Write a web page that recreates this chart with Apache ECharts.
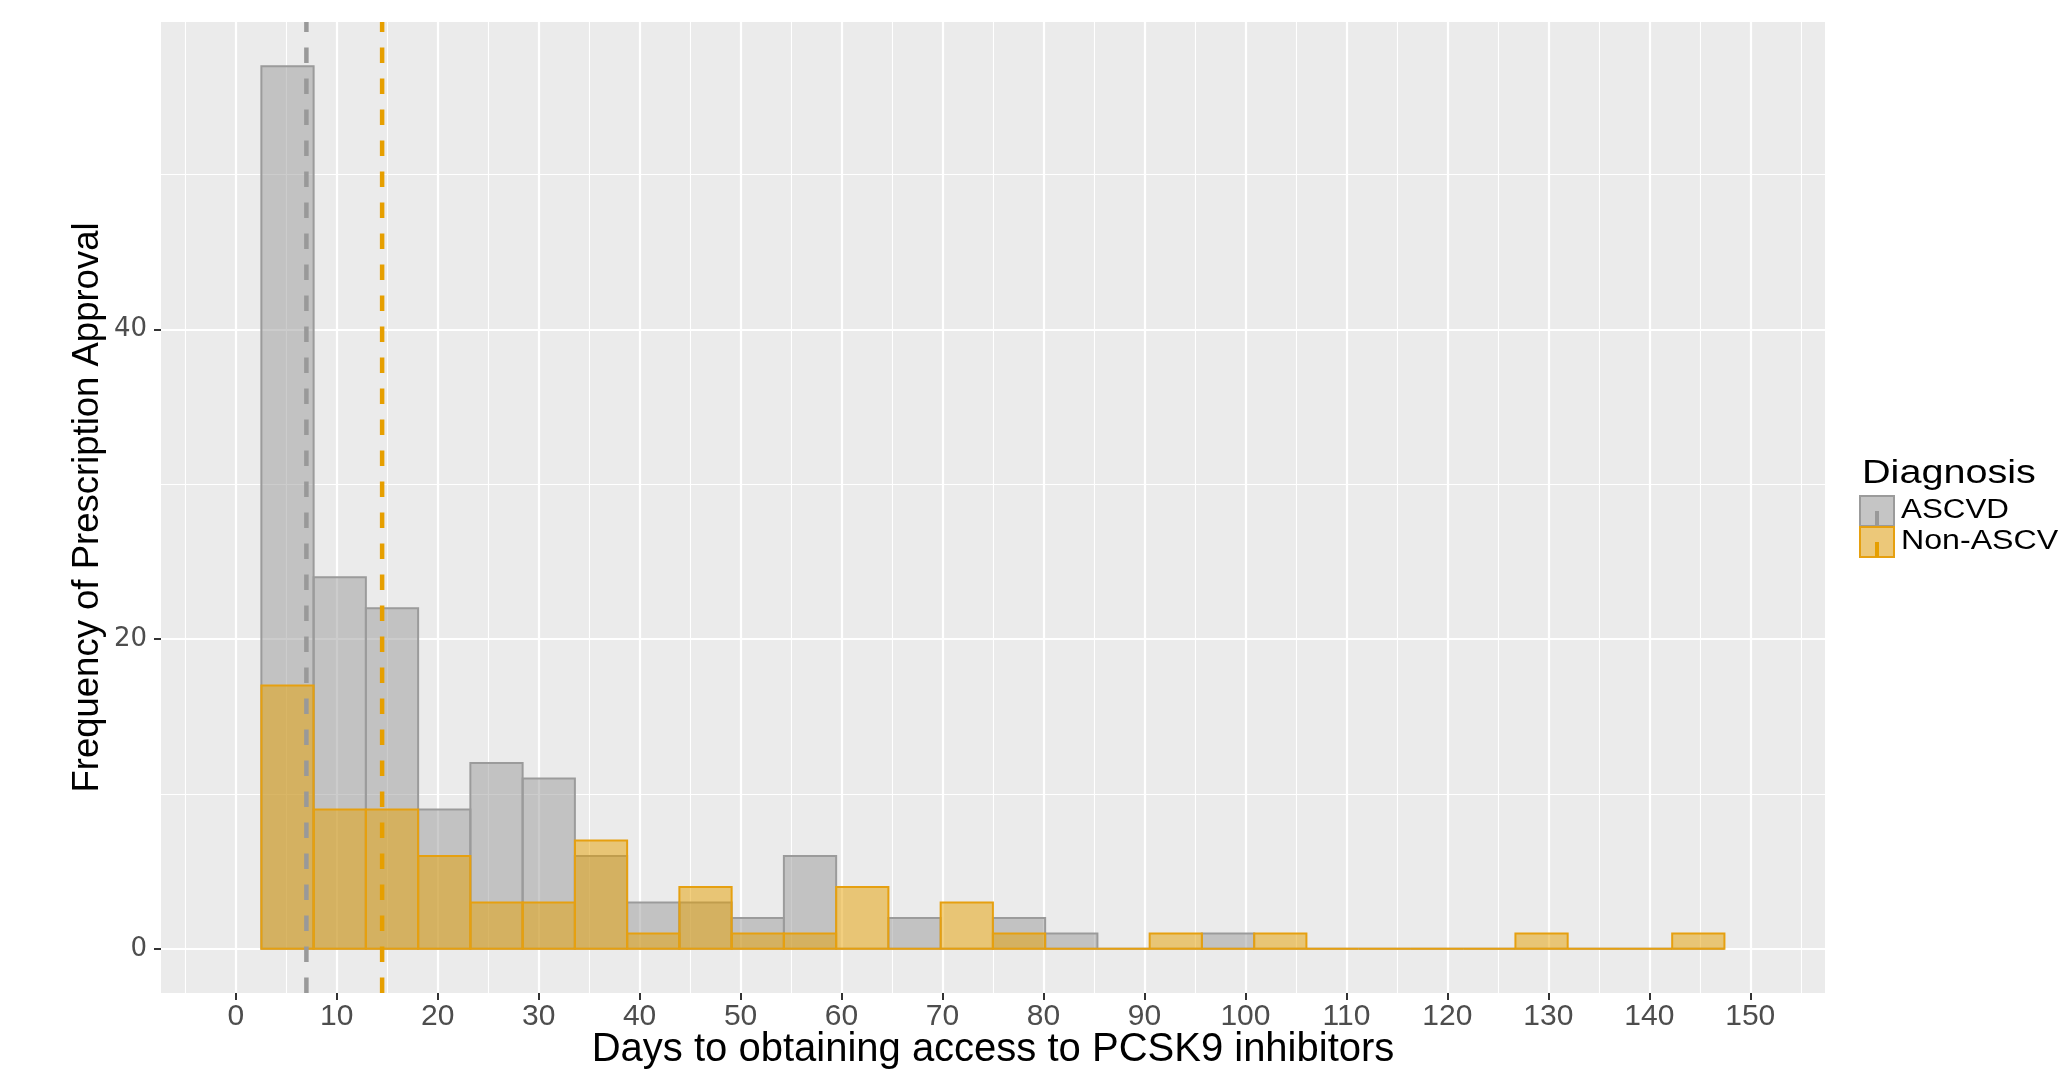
<!DOCTYPE html>
<html>
<head>
<meta charset="utf-8">
<script src="https://cdn.jsdelivr.net/npm/echarts@6/dist/echarts.min.js"></script>
<style>
html,body{margin:0;padding:0;background:#ffffff;}
#c{width:2059px;height:1069px;}
</style>
</head>
<body>
<div id="c"></div>
<script>
// ---- data ----
const binEdges = [2.54, 7.715, 12.89, 18.065, 23.24, 28.415, 33.59, 38.765, 43.94, 49.115,
  54.29, 59.465, 64.64, 69.815, 74.99, 80.165, 85.34, 90.515, 95.69, 100.865,
  106.04, 111.215, 116.39, 121.565, 126.74, 131.915, 137.09, 142.265, 147.44];
const ascvdCounts =    [57, 24, 22, 9, 12, 11, 6, 3, 3, 2, 6, 0, 2, 0, 2, 1, 0, 0, 1, 0, 0, 0, 0, 0, 0, 0, 0, 0];
const nonAscvdCounts = [17, 9, 9, 6, 3, 3, 7, 1, 4, 1, 1, 4, 0, 3, 1, 0, 0, 1, 0, 1, 0, 0, 0, 0, 1, 0, 0, 1];
const ascvdMedian = 7.0;
const nonAscvdMedian = 14.5;
const xTicks = [0, 10, 20, 30, 40, 50, 60, 70, 80, 90, 100, 110, 120, 130, 140, 150];
const xMinorTicks = [-5, 5, 15, 25, 35, 45, 55, 65, 75, 85, 95, 105, 115, 125, 135, 145, 155];
const yTicks = [0, 20, 40];
const yMinorTicks = [10, 30, 50];
const seriesNames = ['ASCVD', 'Non-ASCVD'];
const legendTitle = 'Diagnosis';
const xTitle = 'Days to obtaining access to PCSK9 inhibitors';
const yTitle = 'Frequency of Prescription Approval';

// ---- chart ----
const X_MIN = -7.4, X_MAX = 157.4, Y_MIN = -2.85, Y_MAX = 59.85;

function histData(counts) {
  return counts.map((c, i) => [binEdges[i], binEdges[i + 1], c]);
}
function barRenderer(fill, stroke) {
  return function (params, api) {
    const p0 = api.coord([api.value(0), 0]);
    const p1 = api.coord([api.value(1), api.value(2)]);
    return {
      type: 'rect',
      shape: { x: p0[0], y: p1[1], width: p1[0] - p0[0], height: p0[1] - p1[1] },
      style: { fill: fill, stroke: stroke, lineWidth: 2 }
    };
  };
}

const tickStyle = { color: '#333333', width: 2 };
const chart = echarts.init(document.getElementById('c'), null, { renderer: 'canvas' });
const option = {
  animation: false,
  backgroundColor: '#ffffff',
  grid: { left: 161, right: 234, top: 22, bottom: 76, show: true, backgroundColor: '#EBEBEB', borderWidth: 0, outerBoundsMode: 'none', containLabel: false },
  xAxis: [
    {
      type: 'value', min: X_MIN, max: X_MAX,
      axisLine: { show: false, onZero: false },
      axisTick: { show: true, length: 7, lineStyle: tickStyle, customValues: xTicks },
      axisLabel: { customValues: xTicks, margin: 9, fontSize: 30, fontFamily: 'Liberation Sans', color: '#4D4D4D' },
      splitLine: { show: true, lineStyle: { color: '#ffffff', width: 2.2 } },
      name: xTitle, nameLocation: 'middle', nameGap: 37, nameMoveOverlap: false,
      nameTextStyle: { fontSize: 40, fontFamily: 'Liberation Sans', color: '#000000' }
    },
    {
      type: 'value', min: X_MIN, max: X_MAX, position: 'bottom',
      axisLine: { show: false, onZero: false },
      axisTick: { show: false, customValues: xMinorTicks },
      axisLabel: { show: false },
      splitLine: { show: true, lineStyle: { color: '#ffffff', width: 1.1 } }
    }
  ],
  yAxis: [
    {
      type: 'value', min: Y_MIN, max: Y_MAX,
      axisLine: { show: false, onZero: false },
      axisTick: { show: true, length: 7, lineStyle: tickStyle, customValues: yTicks },
      axisLabel: { customValues: yTicks, margin: 14, fontSize: 26, fontFamily: 'DejaVu Sans', color: '#4D4D4D' },
      splitLine: { show: true, lineStyle: { color: '#ffffff', width: 2.2 } },
      name: yTitle, nameLocation: 'middle', nameRotate: 90, nameGap: 55, nameMoveOverlap: false,
      nameTextStyle: { fontSize: 36.5, fontFamily: 'Liberation Sans', color: '#000000' }
    },
    {
      type: 'value', min: Y_MIN, max: Y_MAX, position: 'left',
      axisLine: { show: false, onZero: false },
      axisTick: { show: false, customValues: yMinorTicks },
      axisLabel: { show: false },
      splitLine: { show: true, lineStyle: { color: '#ffffff', width: 1.1 } }
    }
  ],
  series: [
    {
      name: seriesNames[0], type: 'custom', xAxisIndex: 0, yAxisIndex: 0, clip: true, z: 2,
      renderItem: barRenderer('rgba(153,153,153,0.5)', '#9B9B9B'),
      encode: { x: [0, 1], y: 2 },
      data: histData(ascvdCounts)
    },
    {
      name: seriesNames[1], type: 'custom', xAxisIndex: 0, yAxisIndex: 0, clip: true, z: 3,
      renderItem: barRenderer('rgba(230,159,0,0.5)', '#E6A010'),
      encode: { x: [0, 1], y: 2 },
      data: histData(nonAscvdCounts)
    },
    {
      name: seriesNames[0] + ' median', type: 'line', xAxisIndex: 0, yAxisIndex: 0, z: 5, silent: true,
      symbol: 'none', data: [[ascvdMedian, Y_MIN], [ascvdMedian, Y_MAX]],
      lineStyle: { color: '#999999', width: 4.5, type: [15.5, 15.5] }
    },
    {
      name: seriesNames[1] + ' median', type: 'line', xAxisIndex: 0, yAxisIndex: 0, z: 5, silent: true,
      symbol: 'none', data: [[nonAscvdMedian, Y_MIN], [nonAscvdMedian, Y_MAX]],
      lineStyle: { color: '#E69F00', width: 4.5, type: [15.5, 15.5] }
    }
  ],
  graphic: [
    { type: 'text', x: 1862, y: 474, scaleX: 1.2, style: { text: legendTitle, font: '33px "Liberation Sans"', fill: '#000', textVerticalAlign: 'middle', textAlign: 'left' } },
    { type: 'rect', shape: { x: 1860, y: 496, width: 34, height: 30 }, style: { fill: '#C5C5C5', stroke: '#9B9B9B', lineWidth: 2 } },
    { type: 'line', shape: { x1: 1877, y1: 511, x2: 1877, y2: 526 }, style: { stroke: '#999999', lineWidth: 4 } },
    { type: 'rect', shape: { x: 1860, y: 527, width: 34, height: 30 }, style: { fill: '#ECC879', stroke: '#E6A010', lineWidth: 2 } },
    { type: 'line', shape: { x1: 1877, y1: 542, x2: 1877, y2: 557 }, style: { stroke: '#E69F00', lineWidth: 4 } },
    { type: 'text', x: 1901, y: 511, scaleX: 1.16, style: { text: seriesNames[0], font: '27px "Liberation Sans"', fill: '#000', textVerticalAlign: 'middle', textAlign: 'left' } },
    { type: 'text', x: 1901, y: 542, scaleX: 1.19, style: { text: seriesNames[1], font: '27px "Liberation Sans"', fill: '#000', textVerticalAlign: 'middle', textAlign: 'left' } }
  ]
};
chart.setOption(option);
</script>
</body>
</html>
